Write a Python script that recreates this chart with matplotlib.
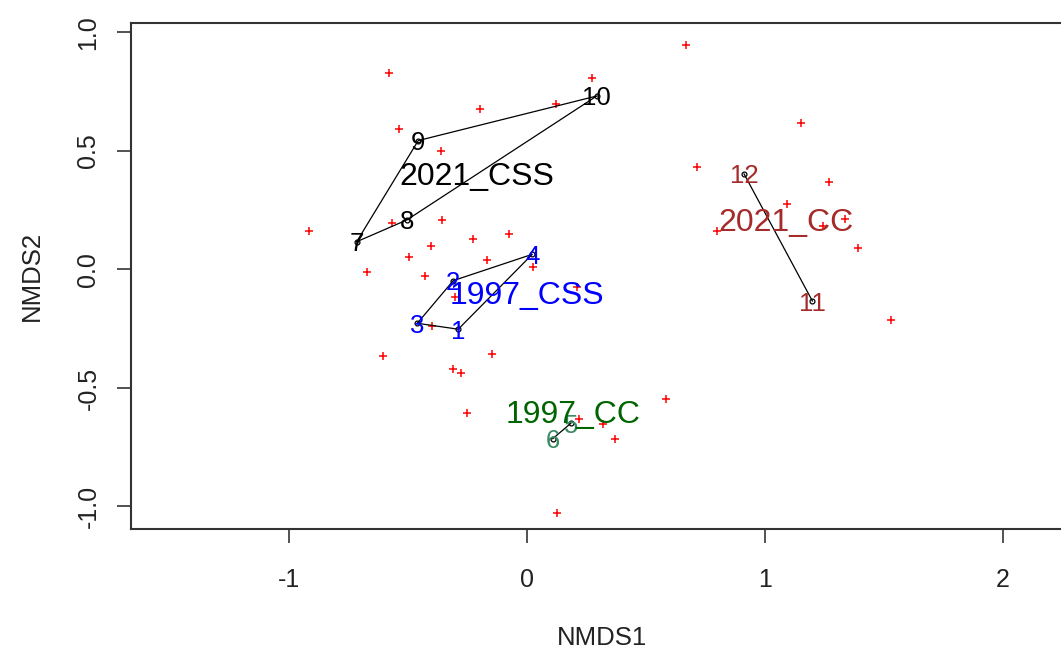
import matplotlib
matplotlib.use("Agg")
import matplotlib.pyplot as plt

plt.rcParams['font.family'] = ['Liberation Sans', 'DejaVu Sans']

# species scores (red crosses)
species_x = [0.667, -0.579, 0.273, -0.197, 0.122, -0.537, -0.360, 1.150, 0.716, 1.268,
             -0.916, -0.568, -0.356, -0.226, -0.074, -0.405, -0.495, -0.169, 0.026, -0.674,
             -0.427, -0.303, 0.209, -0.400, -0.606, -0.148, -0.310, -0.279, -0.253, 0.583,
             0.220, 0.321, 0.370, 0.127, 1.094, 0.797, 1.336, 1.245, 1.392, 1.531]
species_y = [0.946, 0.828, 0.807, 0.676, 0.697, 0.593, 0.501, 0.619, 0.434, 0.370,
             0.164, 0.197, 0.209, 0.127, 0.149, 0.099, 0.051, 0.040, 0.012, -0.012,
             -0.026, -0.117, -0.075, -0.238, -0.365, -0.358, -0.420, -0.435, -0.607, -0.546,
             -0.630, -0.653, -0.714, -1.026, 0.275, 0.162, 0.212, 0.184, 0.092, -0.213]

# site scores
site_ids = ['1', '2', '3', '4', '5', '6', '7', '8', '9', '10', '11', '12']
site_x = [-0.289, -0.310, -0.461, 0.022, 0.184, 0.108, -0.716, -0.505, -0.457, 0.293, 1.199, 0.912]
site_y = [-0.252, -0.047, -0.227, 0.064, -0.649, -0.714, 0.117, 0.209, 0.544, 0.732, -0.133, 0.403]
site_colors = ['blue'] * 4 + ['#3a8a62'] * 2 + ['black'] * 4 + ['brown'] * 2

# hull outlines (site ids in drawing order)
hull_1997_css = [3, 2, 4, 1, 3]
hull_2021_css = [7, 9, 10, 8, 7]
hull_1997_cc = [5, 6]
hull_2021_cc = [11, 12]

# group labels
group_names = ['2021_CSS', '1997_CSS', '1997_CC', '2021_CC']
group_x = [-0.209, 0.001, 0.195, 1.088]
group_y = [0.406, -0.098, -0.600, 0.209]
group_colors = ['black', 'blue', '#006400', 'brown']

W, H = 1061, 651
fig = plt.figure(figsize=(W / 100, H / 100), dpi=100)
# plot region runs past the right edge of the picture, like the cropped original
ax = fig.add_axes([131 / W, (H - 529) / H, (1073 - 131) / W, (529 - 23) / H])

ax.plot(species_x, species_y, '+', color='red', markersize=6, markeredgewidth=1.1, zorder=2)

for hull in [hull_1997_css, hull_2021_css, hull_1997_cc, hull_2021_cc]:
    hx = [site_x[i - 1] for i in hull]
    hy = [site_y[i - 1] for i in hull]
    ax.plot(hx, hy, color='black', linewidth=0.9, zorder=3)

ax.plot(site_x, site_y, 'o', markerfacecolor='none', markeredgecolor='black',
        markersize=3.5, markeredgewidth=0.9, zorder=4)

for sx, sy, sid, c in zip(site_x, site_y, site_ids, site_colors):
    ax.text(sx, sy, sid, color=c, fontsize=18.5, ha='center', va='center_baseline', zorder=5)

for gx, gy, name, c in zip(group_x, group_y, group_names, group_colors):
    ax.text(gx, gy, name, color=c, fontsize=23, ha='center', va='center_baseline', zorder=6)

ax.set_xlim(-1.664, 2.294)
ax.set_ylim(-1.095, 1.040)
ax.set_xticks([-1, 0, 1, 2])
ax.set_xticklabels(['-1', '0', '1', '2'])
ax.set_yticks([-1.0, -0.5, 0.0, 0.5, 1.0])
ax.set_yticklabels(['-1.0', '-0.5', '0.0', '0.5', '1.0'], rotation=90, va='center')

for side in ['top', 'bottom', 'left', 'right']:
    ax.spines[side].set_color('#333333')
    ax.spines[side].set_linewidth(1.5)

ax.tick_params(axis='both', direction='out', length=10, width=1.2, color='#333333',
               labelsize=18, labelcolor='#222222')
ax.tick_params(axis='x', pad=18)
ax.tick_params(axis='y', pad=12)

fig.text(602 / W, 1 - 638 / H, 'NMDS1', fontsize=18.5, ha='center', va='center', color='#222222')
fig.text(32 / W, 1 - 276 / H, 'NMDS2', fontsize=18.5, ha='center', va='center', rotation=90,
         color='#222222')

fig.savefig('out.png', dpi=100)
